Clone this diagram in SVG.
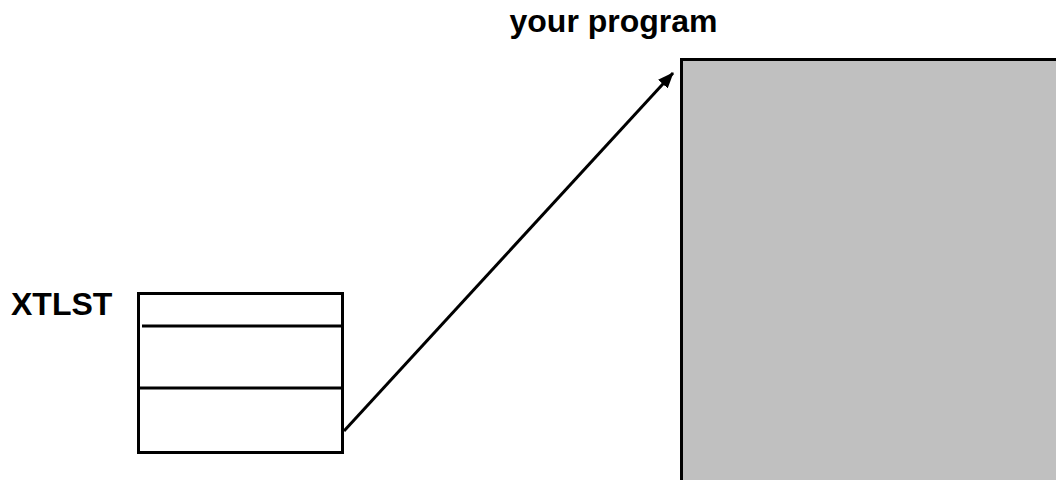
<svg xmlns="http://www.w3.org/2000/svg" width="1056" height="480" viewBox="0 0 1056 480">
<style>
.lbl{font-family:"Liberation Sans",Arial,sans-serif;font-weight:bold;font-size:32px;fill:#000}
.ln{stroke:#000;stroke-width:3;fill:none}
</style>
<defs>
<marker id="ah" markerWidth="16" markerHeight="13" refX="15" refY="6.5" orient="auto" markerUnits="userSpaceOnUse" viewBox="0 0 16 13">
<path d="M0,0 L16,6.5 L0,13 z" fill="#000"/>
</marker>
</defs>
<rect width="1056" height="480" fill="#fff"/>
<g id="program">
<rect x="681.5" y="59.5" width="380" height="430" fill="#c0c0c0" stroke="#000" stroke-width="3"/>
<text class="lbl" x="613.5" y="32" text-anchor="middle">your program</text>
</g>
<g id="xtlst">
<rect x="138.5" y="293.5" width="204" height="159" class="ln" fill="#fff"/>
<line x1="142" y1="326" x2="342" y2="326" class="ln"/>
<line x1="138" y1="388" x2="342" y2="388" class="ln"/>
<text class="lbl" x="11" y="315">XTLST</text>
</g>
<g id="connectors">
<line x1="344" y1="431" x2="673" y2="73" class="ln" marker-end="url(#ah)" stroke-width="4"/>
</g>
</svg>
